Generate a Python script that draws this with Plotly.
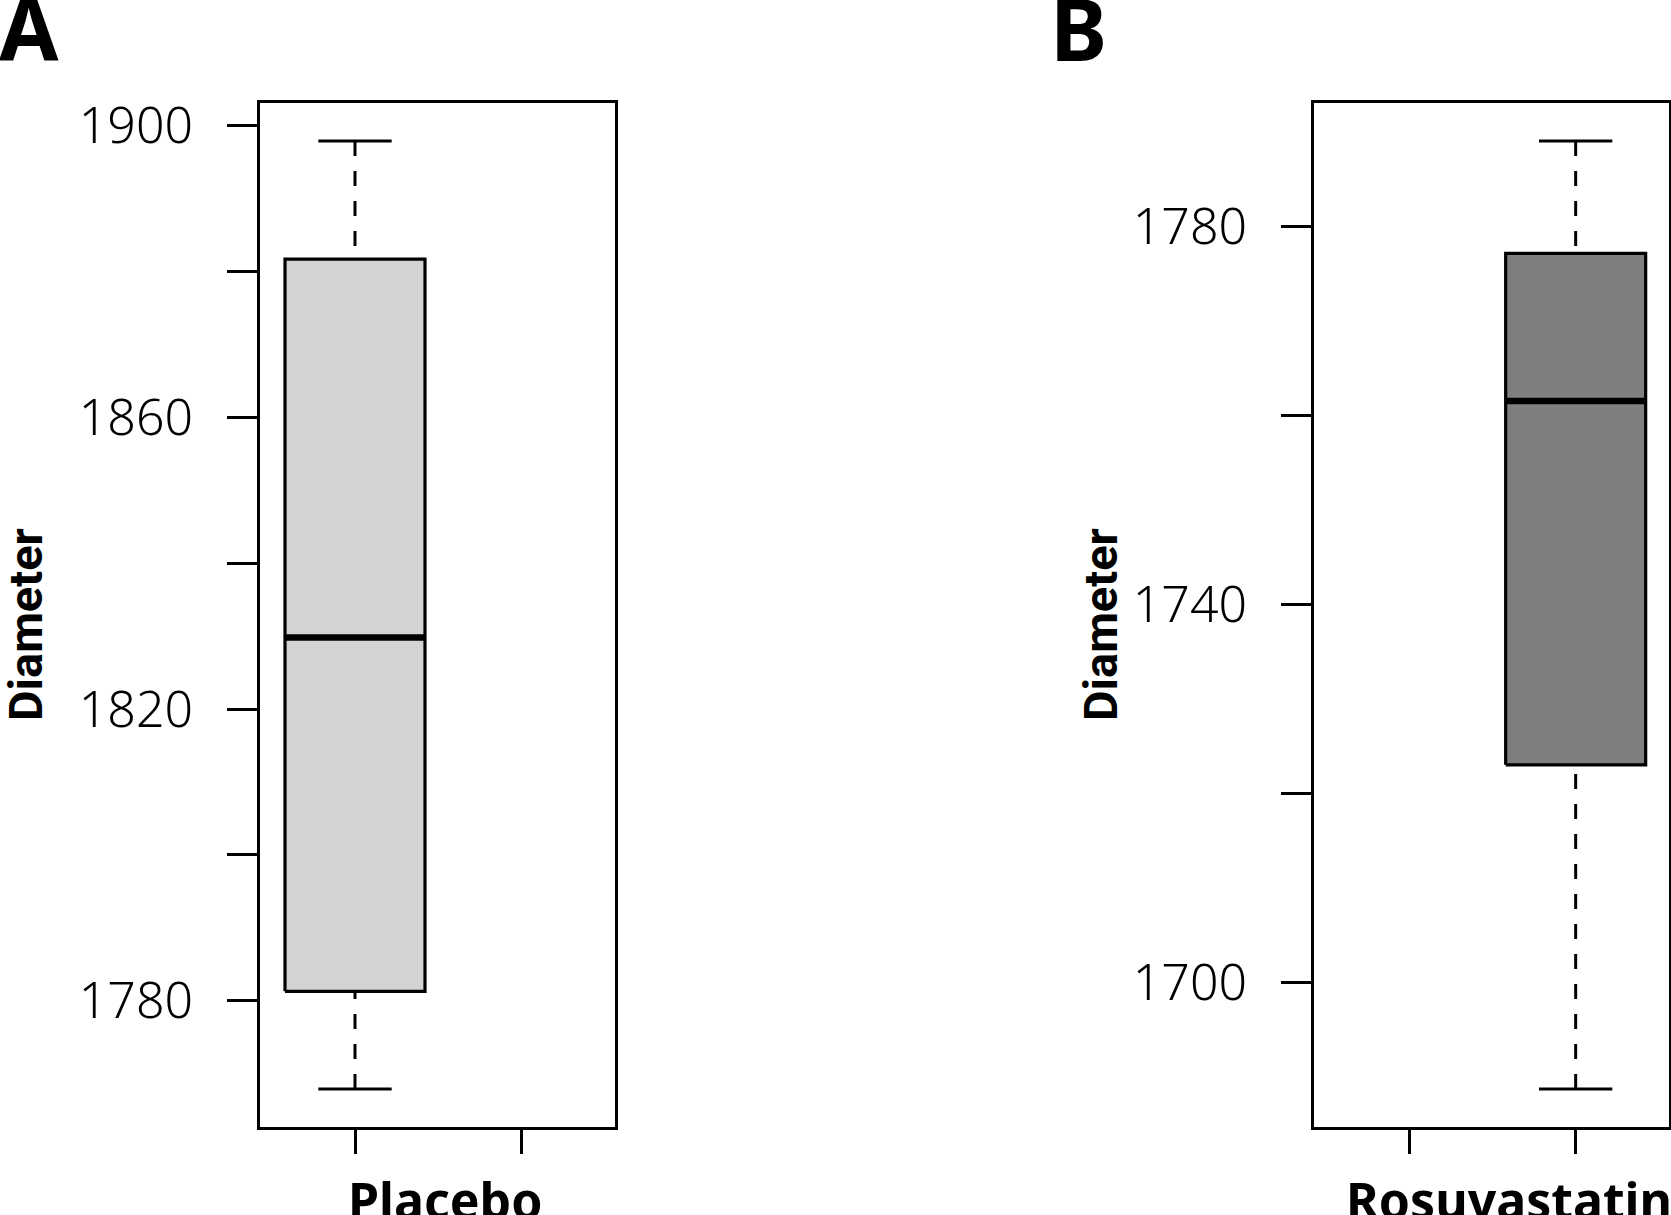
import plotly.graph_objects as go

# ---- data ----
groups = ["Placebo", "Rosuvastatin"]
group_pos = [1, 2]
lower_whisker = [1767.9, 1688.7]
q1 = [1781.3, 1723.0]
median = [1829.8, 1761.5]
q3 = [1881.7, 1777.1]
upper_whisker = [1897.9, 1789.0]
fill_colors = ["#D3D3D3", "#7F7F7F"]
panel_letters = ["A", "B"]
ytick_vals = [[1780, 1800, 1820, 1840, 1860, 1880, 1900],
              [1700, 1720, 1740, 1760, 1780]]
ytick_text = [["1780", "", "1820", "", "1860", "", "1900"],
              ["1700", "", "1740", "", "1780"]]

W, H = 1671, 1215
HW = 0.42   # half box width
CW = 0.22   # half staple width
LW = 3.2

fig = go.Figure()

for i in range(2):
    xa = "x" if i == 0 else "x2"
    ya = "y" if i == 0 else "y2"
    p = group_pos[i]
    # box
    fig.add_trace(go.Scatter(
        x=[p - HW, p + HW, p + HW, p - HW, p - HW],
        y=[q1[i], q1[i], q3[i], q3[i], q1[i]],
        mode="lines", fill="toself", fillcolor=fill_colors[i],
        line=dict(color="black", width=LW), xaxis=xa, yaxis=ya,
        showlegend=False, hoverinfo="skip"))
    # median
    fig.add_trace(go.Scatter(
        x=[p - HW, p + HW], y=[median[i], median[i]], mode="lines",
        line=dict(color="black", width=6.5), xaxis=xa, yaxis=ya,
        showlegend=False, hoverinfo="skip"))
    # whiskers (dashed, drawn from staple towards box)
    for a, b in [(upper_whisker[i], q3[i]), (lower_whisker[i], q1[i])]:
        fig.add_trace(go.Scatter(
            x=[p, p], y=[a, b], mode="lines",
            line=dict(color="black", width=3, dash="15px,15px"),
            xaxis=xa, yaxis=ya, showlegend=False, hoverinfo="skip"))
    # staples
    for v in [upper_whisker[i], lower_whisker[i]]:
        fig.add_trace(go.Scatter(
            x=[p - CW, p + CW], y=[v, v], mode="lines",
            line=dict(color="black", width=3), xaxis=xa, yaxis=ya,
            showlegend=False, hoverinfo="skip"))


def yr(i):
    lo, hi = lower_whisker[i], upper_whisker[i]
    d = (hi - lo) * 0.04
    return [lo - d, hi + d]


tickfont = dict(family="Noto Sans", size=50, color="black", weight=300)
xcommon = dict(range=[0.43, 2.56], tickvals=group_pos, ticktext=["", ""],
               ticks="outside", ticklen=24, tickwidth=3, tickcolor="black",
               showline=True, linewidth=3, linecolor="black", mirror=True,
               showgrid=False, zeroline=False, fixedrange=True,
               automargin=False)
ycommon = dict(ticks="outside", ticklen=30, tickwidth=3, tickcolor="black",
               showline=True, linewidth=3, linecolor="black", mirror=True,
               showgrid=False, zeroline=False, tickfont=tickfont,
               ticklabelstandoff=24, domain=[1 - 1127 / H, 1 - 103 / H],
               automargin=False, fixedrange=True)

fig.update_layout(
    width=W, height=H, margin=dict(l=0, r=0, t=0, b=0, autoexpand=False),
    paper_bgcolor="white", plot_bgcolor="white",
    xaxis=dict(domain=[260 / W, 615 / W], anchor="y", **xcommon),
    xaxis2=dict(domain=[1314 / W, 1669 / W], anchor="y2", **xcommon),
    yaxis=dict(anchor="x", range=yr(0), tickvals=ytick_vals[0],
               ticktext=ytick_text[0], **ycommon),
    yaxis2=dict(anchor="x2", range=yr(1), tickvals=ytick_vals[1],
                ticktext=ytick_text[1], **ycommon),
    showlegend=False,
)

ann = []
title_x = [25 / W, 1100 / W]
letter_x = [-3 / W, 1048 / W]
for i in range(2):
    xd = "x domain" if i == 0 else "x2 domain"
    ann.append(dict(text=groups[i], xref=xd, x=0.52 if i == 0 else 0.55,
                    yref="paper", y=1 - 1164 / H, xanchor="center",
                    yanchor="top", showarrow=False,
                    font=dict(family="Noto Sans", size=50, color="black",
                              weight="bold")))
    ann.append(dict(text="Diameter", xref="paper", x=title_x[i],
                    yref="paper", y=1 - 625 / H, textangle=-90,
                    xanchor="center", yanchor="middle", showarrow=False,
                    font=dict(family="Roboto", size=47, color="black",
                              weight="bold")))
    ann.append(dict(text=panel_letters[i], xref="paper", x=letter_x[i],
                    yref="paper", y=1 + 33 / H, xanchor="left",
                    yanchor="top", showarrow=False,
                    font=dict(family="Noto Sans", size=86, color="black",
                              weight="bold")))
fig.update_layout(annotations=ann)

fig.write_html("out.html", config={"displayModeBar": False},
               post_script="document.body.style.margin='0';"
                           "document.body.style.overflow='hidden';")
